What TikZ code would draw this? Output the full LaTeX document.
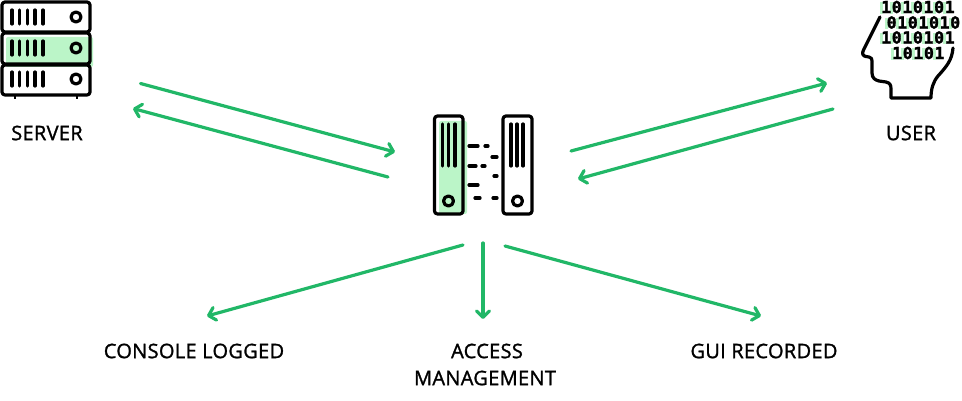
\documentclass[tikz,border=0pt]{standalone}
\usepackage{fontspec}
\setmainfont{Open Sans}[FakeBold=1.3,LetterSpace=1.6]
\newfontfamily\bitsfont{DejaVu Sans Mono Bold}[LetterSpace=4,FakeBold=1.8]
\usetikzlibrary{arrows.meta}
\definecolor{flowgreen}{HTML}{21B767}
\definecolor{softgreen}{HTML}{BBF5C8}
\tikzset{
  flow/.style={draw=flowgreen,line width=3.2pt,line cap=round,line join=round,
    -{Straight Barb[length=6.5pt,width=13pt,round]}},
  ink/.style={draw=black,line width=3.2pt,line cap=round,line join=round},
  case/.style={ink,rounded corners=3pt},
  tint/.style={fill=softgreen,draw=none,rounded corners=2pt},
  caption/.style={font=\fontsize{20}{20}\selectfont,text=black,inner sep=0pt,anchor=center},
  bits/.style={font=\bitsfont\fontsize{16.5}{16.5}\selectfont,text=black,inner sep=0pt,anchor=west},
}
\begin{document}
\begin{tikzpicture}[x=1pt,y=-1pt]
\useasboundingbox (0,0) rectangle (962,401);

% server rack
\fill[tint] (6,37) rectangle (93,67);
\foreach \t/\b in {2/32,33/64,65/95}
  \draw[case] (2,\t) rectangle (90,\b);
\foreach \top in {10,41,72}{
  \foreach \xx in {12,19.5,27.5,35,43}
    \draw[ink] (\xx,\top) -- ++(0,14);
  \draw[ink] (76,\top+7) circle (5);
}
\foreach \xx in {15,77}
  \draw[black,line width=2.5pt] (\xx,96) -- (\xx,99);
\node[caption] (server) at (47,133) {SERVER};

% central gateway
\fill[tint] (439,121) rectangle (467,214);
\draw[case] (434.5,116) rectangle (463,214);
\draw[case] (503,116) rectangle (532,214);
\foreach \xx in {442.5,448.5,455,511,517,523}
  \draw[ink] (\xx,124) -- (\xx,166);
\draw[ink] (448.5,201) circle (5);
\draw[ink] (517.5,201) circle (5);
\foreach \a/\b/\yy in {469/478/146,485/488/146,492/497/157,469/476/166,482/485/166,
                       494/497/176,469/478/185,475/480/198,493/497/198}
  \draw[ink] (\a,\yy) -- (\b,\yy);

% head outline
\draw[ink] (880,17) -- (863.5,50) .. controls (861.5,54) and (863,56) .. (866,56.5)
  -- (869,57) .. controls (871.5,57.5) and (872,59) .. (872,61) -- (872,73)
  .. controls (872,78) and (875,80) .. (879,81) -- (886,82)
  .. controls (890,83) and (891,85) .. (891,89) -- (891,98) -- (931,98)
  .. controls (931,89) and (933,82) .. (938,76)
  .. controls (947,66) and (952,60) .. (953,48);

% tinted slivers beside the binary digits, then the digits
\foreach \first/\count/\yy in {879.5/7/7,885/7/22.5,879.5/7/37.5,890.5/5/53}{
  \foreach \i in {1,...,\count}
    \fill[softgreen] (\first+\i*10.6-10.6,\yy-4.5) rectangle ++(3,11.5);
}
\node[bits] (rowa) at (881,7) {1010101};
\node[bits] (rowb) at (886.5,22.5) {0101010};
\node[bits] (rowc) at (881,37.5) {1010101};
\node[bits] (rowd) at (892,53) {10101};
\node[caption] (user) at (911,133) {USER};

% destinations below the gateway
\node[caption] (console) at (194,351) {CONSOLE LOGGED};
\node[caption] (access) at (487,351) {ACCESS};
\node[caption] (management) at (485,378) {MANAGEMENT};
\node[caption] (gui) at (764,351) {GUI RECORDED};

% connector end points
\coordinate (srvOut) at (140.5,83.5);
\coordinate (gwIn) at (395,152);
\coordinate (gwOut) at (388,177);
\coordinate (srvIn) at (133,108.5);
\coordinate (gwRightOut) at (571,151);
\coordinate (usrIn) at (827,83);
\coordinate (usrOut) at (833,109);
\coordinate (gwRightIn) at (578,179);
\coordinate (gwA) at (463,245);
\coordinate (conIn) at (207,316);
\coordinate (gwB) at (483,243);
\coordinate (accIn) at (483,319);
\coordinate (gwC) at (505,246);
\coordinate (guiIn) at (761,316);

\draw[flow] (srvOut) -- (gwIn);
\draw[flow] (gwOut) -- (srvIn);
\draw[flow] (gwRightOut) -- (usrIn);
\draw[flow] (usrOut) -- (gwRightIn);
\draw[flow] (gwA) -- (conIn);
\draw[flow] (gwB) -- (accIn);
\draw[flow] (gwC) -- (guiIn);
\end{tikzpicture}
\end{document}
